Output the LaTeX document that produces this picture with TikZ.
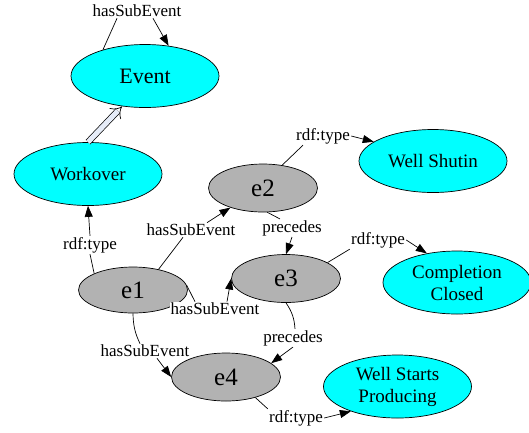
\documentclass[tikz,border=0pt]{standalone}
\usepackage{fontspec}
\setmainfont{Liberation Serif}
\usetikzlibrary{shapes.geometric,arrows.meta}
\definecolor{klasscyan}{RGB}{0,255,255}
\definecolor{instgray}{RGB}{178,178,178}
\definecolor{implyfill}{RGB}{230,236,248}

\begin{document}
\begin{tikzpicture}[x=1pt,y=-1pt,line width=0.7pt,
  klass/.style = {ellipse,draw,fill=klasscyan,inner sep=0pt,align=center,
    minimum width=148pt,minimum height=63pt,font=\fontsize{19}{22}\selectfont},
  inst/.style  = {ellipse,draw,fill=instgray,inner sep=0pt,
    minimum width=109pt,minimum height=48pt,font=\fontsize{25}{27}\selectfont},
  rel/.style   = {inner sep=1pt,font=\fontsize{17}{19}\selectfont},
  arr/.style   = {-{Triangle[length=11pt,width=8pt]}},
  subclass/.style = {double=implyfill,double distance=5pt,
    -{Implies[length=7pt,width=17pt]}},
]
  \useasboundingbox (0,0) rectangle (529,432);

  \node[klass,font=\fontsize{22}{24}\selectfont] (event) at (145,76) {Event};
  \node[klass] (workover)  at (88,174)    {Workover};
  \node[klass] (shutin)    at (433,161)   {Well Shutin};
  \node[klass] (closed)    at (457,282.5) {Completion\\Closed};
  \node[klass] (producing) at (397.5,386.5) {Well Starts\\Producing};

  \node[inst,minimum height=46pt] (e1) at (133,290) {e1};
  \node[inst] (e2) at (263,188)   {e2};
  \node[inst] (e3) at (286,278.5) {e3};
  \node[inst] (e4) at (226,377)   {e4};

  \node[rel] (subEvLbl)   at (137,11)  {hasSubEvent};
  \node[rel] (typeWoLbl)  at (90,245)  {rdf:type};
  \node[rel] (subE2Lbl)   at (191,230) {hasSubEvent};
  \node[rel] (precE3Lbl)  at (292,228) {precedes};
  \node[rel,fill=white] (subE3Lbl) at (215,309) {hasSubEvent};
  \node[rel] (subE4Lbl)   at (145,351) {hasSubEvent};
  \node[rel] (precE4Lbl)  at (293,338) {precedes};
  \node[rel] (typeE2Lbl)  at (323,136) {rdf:type};
  \node[rel] (typeE3Lbl)  at (378,240) {rdf:type};
  \node[rel] (typeE4Lbl)  at (296,418) {rdf:type};

  \draw (event.148) -- ([xshift=-20pt]subEvLbl.south);
  \draw[arr] ([xshift=16pt]subEvLbl.south) -- (event.52);

  \draw[subclass] (workover.north) -- (event.233);

  \draw (e1.157) -- (typeWoLbl.south);
  \draw[arr] (typeWoLbl.north) -- (workover.south);

  \draw (e1.39) -- ([xshift=-8pt]subE2Lbl.south);
  \draw[arr] ([xshift=16pt]subE2Lbl.north) -- (e2.211);

  \draw (e2.280) -- ([xshift=-12pt]precE3Lbl.north);
  \draw[arr] (precE3Lbl.south) -- (e3.north);

  \draw (e1.5) -- ([xshift=-20pt]subE3Lbl.north);
  \draw[arr] ([xshift=12pt]subE3Lbl.north) -- (e3.west);

  \draw (e1.south) to[bend right=12] ([xshift=-5pt]subE4Lbl.north);
  \draw[arr] ([xshift=12pt]subE4Lbl.south) -- (e4.west);

  \draw (e3.south) to[bend left=15] ([xshift=2pt]precE4Lbl.north);
  \draw[arr] (precE4Lbl.south) -- (e4.17);

  \draw (e2.50) -- ([xshift=-20pt]typeE2Lbl.south);
  \draw[arr] (typeE2Lbl.east) -- (shutin.162);

  \draw (e3.21) -- (typeE3Lbl.south west);
  \draw[arr] (typeE3Lbl.east) -- (closed.136);

  \draw (e4.325) -- (typeE4Lbl.north west);
  \draw[arr] (typeE4Lbl.east) -- (producing.208);
\end{tikzpicture}
\end{document}
